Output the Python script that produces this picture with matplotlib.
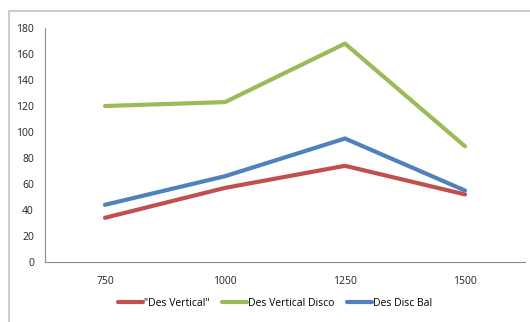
import matplotlib.pyplot as plt
from matplotlib.patches import Rectangle

# data
categories = ['750', '1000', '1250', '1500']
des_vertical = [34, 57, 74, 52]
des_vertical_disco = [120, 123, 168, 89]
des_disc_bal = [44, 66, 95, 55]

plt.rcParams['font.family'] = ['Open Sans', 'DejaVu Sans']

fig = plt.figure(figsize=(5.30, 3.22), dpi=100)
ax = fig.add_axes([45 / 530, 1 - 262 / 322, 480 / 530, 234 / 322])

# outer chart frame (runs past the right and bottom edges)
fig.patches.append(Rectangle((8.5 / 530, -0.1), 1.2, 1 - 11 / 322 + 0.1,
                             transform=fig.transFigure, fill=False,
                             edgecolor='#cccccc', linewidth=1.5))

x = range(len(categories))
ax.plot(x, des_vertical, color='#C0504D', linewidth=3, solid_capstyle='round',
        label='"Des Vertical"')
ax.plot(x, des_vertical_disco, color='#9BBB59', linewidth=3, solid_capstyle='round',
        label='Des Vertical Disco')
ax.plot(x, des_disc_bal, color='#4F81BD', linewidth=3, solid_capstyle='round',
        label='Des Disc Bal')

ax.set_xlim(-0.5, 3.5)
ax.set_ylim(0, 180)
ax.set_xticks(list(x))
ax.set_xticklabels(categories)
ax.set_yticks(range(0, 181, 20))
ax.tick_params(length=0, labelsize=7.5, colors='#222222')
ax.tick_params(axis='y', pad=8)
ax.tick_params(axis='x', pad=10)

for side in ['top', 'right']:
    ax.spines[side].set_visible(False)
ax.spines['left'].set_color('#8c8c8c')
ax.spines['bottom'].set_color('#8c8c8c')

fig.legend(loc='center', bbox_to_anchor=(275 / 530, 1 - 303 / 322), ncol=3, frameon=False,
           fontsize=7.5, handlelength=2.4, handletextpad=0.1, columnspacing=1.2)

plt.savefig('out.png', dpi=100)
